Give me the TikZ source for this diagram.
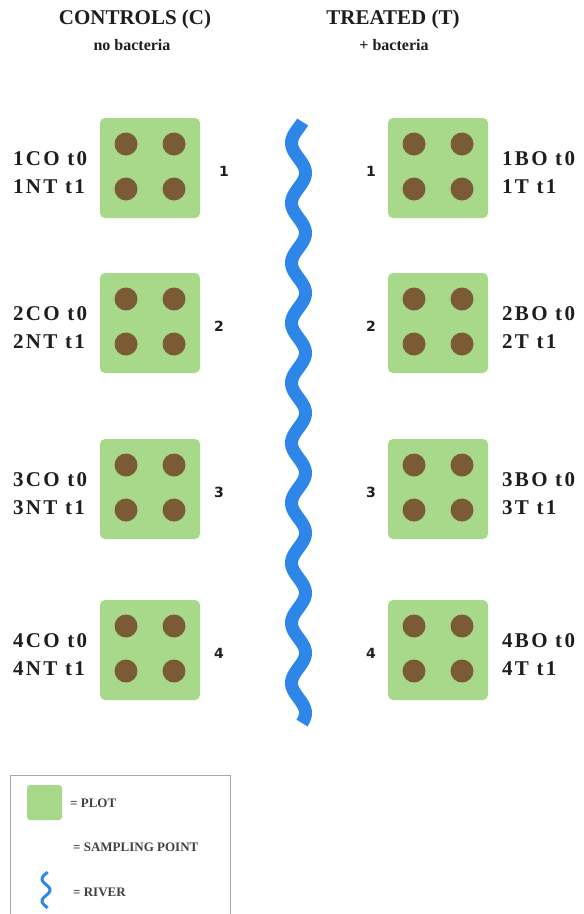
\documentclass[tikz,border=0pt]{standalone}
\usepackage{fontspec}
\setmainfont{Liberation Serif}
\newfontfamily\numfont{DejaVu Sans}
\newfontfamily\lblfont[LetterSpace=11]{Liberation Serif}
\definecolor{plotgreen}{HTML}{A8D98B}
\definecolor{dotbrown}{HTML}{7B5B35}
\definecolor{riverblue}{HTML}{2E86E8}
\definecolor{txt}{HTML}{1E1E1E}
\definecolor{legline}{HTML}{A8A8A8}
\tikzset{
  plotbox/.style={fill=plotgreen, rounded corners=5pt, minimum width=100pt, minimum height=100pt, inner sep=0pt},
  sampdot/.style={circle, fill=dotbrown, minimum size=23pt, inner sep=0pt},
  head/.style={font=\fontsize{21}{24}\selectfont\bfseries, text=txt},
  subhead/.style={font=\fontsize{16}{19}\selectfont\bfseries, text=txt},
  lbl/.style={font=\lblfont\fontsize{21}{23}\selectfont\bfseries, text=txt, anchor=base west, inner sep=0pt},
  num/.style={font=\numfont\fontsize{14}{16}\selectfont\bfseries, text=txt},
  leg/.style={font=\fontsize{13}{15}\selectfont\bfseries, text=txt!85, anchor=west, inner sep=0pt},
  river/.style={draw=riverblue, line width=13pt},
  legbox/.style={draw=legline, line width=1pt}
}
\begin{document}
\begin{tikzpicture}[x=1pt,y=-1pt]
\useasboundingbox (0,0) rectangle (584,914);
\clip (0,0) rectangle (584,914);
% headers
\node[head] (hC) at (135,19) {CONTROLS (C)};
\node[subhead] (hCs) at (132,45) {no bacteria};
\node[head] (hT) at (393,19) {TREATED (T)};
\node[subhead] (hTs) at (394,45) {+ bacteria};
% river
\draw[river] plot[domain=122:723, samples=400, smooth] ({298.5-7*sin(6*(\x-143)+90)}, \x);
% plots
\foreach \i/\y/\nx in {1/168/224, 2/323/219, 3/489/219, 4/650/219} {
  \node[plotbox] (C\i) at (150,\y) {};
  \node[plotbox] (T\i) at (438,\y) {};
  \foreach \dx/\dy [count=\k] in {-24/-24, 24/-24, -24/21, 24/21} {
    \node[sampdot] (C\i d\k) at ({150+\dx},{\y+\dy}) {};
    \node[sampdot] (T\i d\k) at ({438+\dx},{\y+\dy}) {};
  }
  \node[lbl] (C\i a) at (13,{\y-3}) {\i CO t0};
  \node[lbl] (C\i b) at (13,{\y+25}) {\i NT t1};
  \node[lbl] (T\i a) at (502,{\y-3}) {\i BO t0};
  \node[lbl] (T\i b) at (502,{\y+25}) {\i T t1};
  \node[num] (Cn\i) at (\nx,{\y+3}) {\i};
  \node[num] (Tn\i) at (371,{\y+3}) {\i};
}
% legend
\draw[legbox] (10,775) rectangle (230,918);
\node[plotbox, minimum width=35pt, minimum height=35pt, rounded corners=3pt] (legplot) at (44.5,802.5) {};
\node[leg] (legplott) at (70,803) {= PLOT};
\node[leg] (legpt) at (73,847) {= SAMPLING POINT};
\draw[draw=riverblue, line width=3pt] plot[domain=872:908, samples=80, smooth] ({46+4*cos(16.3636*(\x-890))}, \x);
\node[leg] (legriv) at (73,892) {= RIVER};
\end{tikzpicture}
\end{document}
